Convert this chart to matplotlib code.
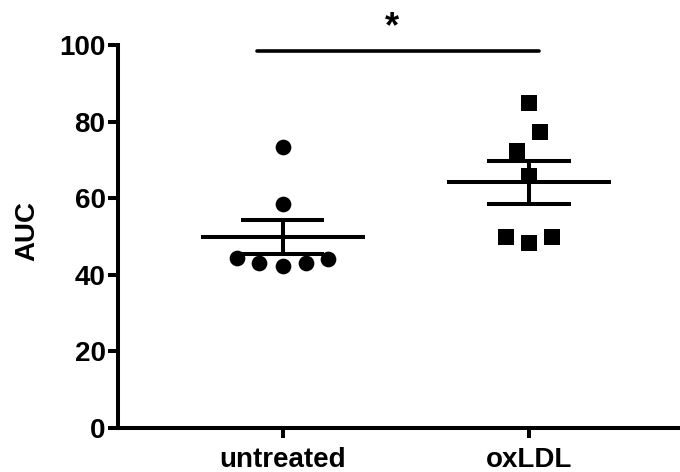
import matplotlib
matplotlib.use("Agg")
import matplotlib.pyplot as plt
import numpy as np

groups = ["untreated", "oxLDL"]
untreated = [73.3, 58.5, 44.3, 43.0, 42.4, 43.0, 44.0]
untreated_dx = [0.0, 0.0, -0.184, -0.094, 0.0, 0.095, 0.186]
oxldl = [84.9, 77.4, 72.4, 65.9, 49.9, 48.4, 49.9]
oxldl_dx = [0.0, 0.045, -0.049, 0.0, -0.093, 0.0, 0.093]
markers = ["o", "s"]

FONT = "Liberation Sans"
LW = 2.9


def main():
    fig = plt.figure(figsize=(6.8, 4.72), dpi=100)
    ax = fig.add_axes([118 / 680, 44 / 472, 1 - 118 / 680, 383 / 472])

    for i, (vals, dx, m) in enumerate(zip([untreated, oxldl], [untreated_dx, oxldl_dx], markers)):
        vals = np.array(vals)
        xs = i + np.array(dx)
        ax.plot(xs, vals, linestyle="none", marker=m, markersize=11.3, color="black",
                markeredgewidth=0, clip_on=False, zorder=3)
        mean = vals.mean()
        sem = vals.std(ddof=1) / np.sqrt(len(vals))
        ax.hlines(mean, i - 0.333, i + 0.333, color="black", linewidth=LW, zorder=4)
        ax.hlines([mean - sem, mean + sem], i - 0.17, i + 0.17, color="black", linewidth=LW, zorder=4)
        ax.vlines(i, mean - sem, mean + sem, color="black", linewidth=LW, zorder=4)

    # significance bar
    ax.plot([-0.104, 1.041], [98.4, 98.4], color="black", linewidth=2.6,
            solid_capstyle="round", clip_on=False)
    ax.text(0.445, 99.9, "*", ha="center", va="bottom", fontsize=26,
            fontweight="bold", family=FONT, clip_on=False)

    ax.set_xlim(-0.668, 1.614)
    ax.set_ylim(0, 100)
    ax.set_yticks([0, 20, 40, 60, 80, 100])
    ax.set_xticks([0, 1])
    ax.set_xticklabels(groups)

    for s in ["top", "right"]:
        ax.spines[s].set_visible(False)
    for s in ["left", "bottom"]:
        ax.spines[s].set_linewidth(LW)
        ax.spines[s].set_capstyle("projecting")

    ax.tick_params(direction="out", length=7, width=LW, pad=2)
    ax.tick_params(axis="x", pad=7)
    for lab in ax.get_xticklabels() + ax.get_yticklabels():
        lab.set_fontsize(20)
        lab.set_fontweight("bold")
        lab.set_family(FONT)

    fig.text(27 / 680, 1 - 231 / 472, "AUC", rotation=90, ha="center", va="center",
             fontsize=20, fontweight="bold", family=FONT)

    fig.savefig("out.png", dpi=100)


if __name__ == "__main__":
    main()
